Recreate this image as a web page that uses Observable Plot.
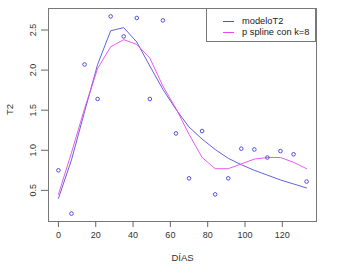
<!DOCTYPE html>
<html>
<head>
<meta charset="utf-8">
<script src="https://cdn.jsdelivr.net/npm/d3@7"></script>
<script src="https://cdn.jsdelivr.net/npm/@observablehq/plot@0.6"></script>
<style>
  html, body { margin: 0; padding: 0; background: #fff; }
  #wrap { position: relative; width: 341px; height: 277px; font-family: "Liberation Sans", Arial, sans-serif; }
  #legend { position: absolute; left: 206px; top: 8px; width: 110px; height: 34px; border: 1px solid #777; background: #fff; font-size: 9.3px; color: #222; box-sizing: border-box; }
  .row { position: absolute; left: 0; height: 10px; line-height: 10px; }
  .sw { position: absolute; left: 16px; width: 11px; height: 0; border-top: 1px solid; top: 5px; }
  .lb { position: absolute; left: 35px; white-space: nowrap; }
</style>
</head>
<body>
<div id="wrap"></div>
<script>
const dias = [0, 7, 14, 21, 28, 35, 42, 49, 56, 63, 70, 77, 84, 91, 98, 105, 112, 119, 126, 133];
const t2 = [0.75, 0.21, 2.07, 1.64, 2.67, 2.42, 2.65, 1.64, 2.62, 1.21, 0.65, 1.24, 0.45, 0.65, 1.02, 1.01, 0.91, 0.99, 0.95, 0.61];
const modeloT2 = [0.40, 0.88, 1.48, 2.07, 2.49, 2.53, 2.35, 2.05, 1.76, 1.51, 1.29, 1.14, 1.01, 0.90, 0.82, 0.75, 0.69, 0.63, 0.58, 0.53];
const pspline = [0.45, 0.97, 1.52, 2.02, 2.29, 2.38, 2.32, 2.15, 1.80, 1.52, 1.20, 0.91, 0.77, 0.77, 0.83, 0.89, 0.91, 0.91, 0.85, 0.77];
const xTicks = [0, 20, 40, 60, 80, 100, 120];
const yTicks = [0.5, 1.0, 1.5, 2.0, 2.5];
const yTickLabels = ["0.5", "1.0", "1.5", "2.0", "2.5"];
const seriesNames = ["modeloT2", "p spline con k=8"];
const colors = ["#5050dc", "#e648ea"];

const pts = dias.map((d, i) => ({x: d, y: t2[i]}));
const l1 = dias.map((d, i) => ({x: d, y: modeloT2[i]}));
const l2 = dias.map((d, i) => ({x: d, y: pspline[i]}));

const xr = 133, yr = 2.67 - 0.21;
const chart = Plot.plot({
  width: 341,
  height: 277,
  marginLeft: 48,
  marginTop: 8,
  marginRight: 25,
  marginBottom: 56,
  style: {fontFamily: "Liberation Sans, Arial, sans-serif", fontSize: "9px", color: "#333", background: "#fff"},
  x: {domain: [0 - 0.04 * xr, 133 + 0.04 * xr]},
  y: {domain: [0.21 - 0.04 * yr, 2.67 + 0.04 * yr]},
  marks: [
    Plot.frame({stroke: "#777"}),
    Plot.axisX({ticks: xTicks, tickSize: 6, tickPadding: 4, stroke: "#666", label: null, fontSize: 9}),
    Plot.axisY({ticks: yTicks, tickFormat: (d, i) => yTickLabels[yTicks.indexOf(d)], tickSize: 7, tickRotate: -90, tickPadding: 6, stroke: "#666", label: null, fontSize: 9}),
    Plot.text(["DÍAS"], {frameAnchor: "bottom", dy: 39, fontSize: 9.5, fill: "#333"}),
    Plot.text(["T2"], {frameAnchor: "left", dx: -39, rotate: -90, fontSize: 9.5, fill: "#333"}),
    Plot.line(l1, {x: "x", y: "y", stroke: colors[0], strokeWidth: 0.9}),
    Plot.line(l2, {x: "x", y: "y", stroke: colors[1], strokeWidth: 0.9}),
    Plot.dot(pts, {x: "x", y: "y", r: 1.8, stroke: colors[0], strokeWidth: 1, fill: "none"})
  ]
});
const wrap = document.getElementById("wrap");
wrap.appendChild(chart);
const leg = document.createElement("div");
leg.id = "legend";
seriesNames.forEach((n, i) => {
  const row = document.createElement("div");
  row.className = "row";
  row.style.top = (7 + i * 10.5) + "px";
  row.style.width = "100%";
  row.innerHTML = `<span class="sw" style="border-color:${colors[i]}"></span><span class="lb">${n}</span>`;
  leg.appendChild(row);
});
wrap.appendChild(leg);
</script>
</body>
</html>
